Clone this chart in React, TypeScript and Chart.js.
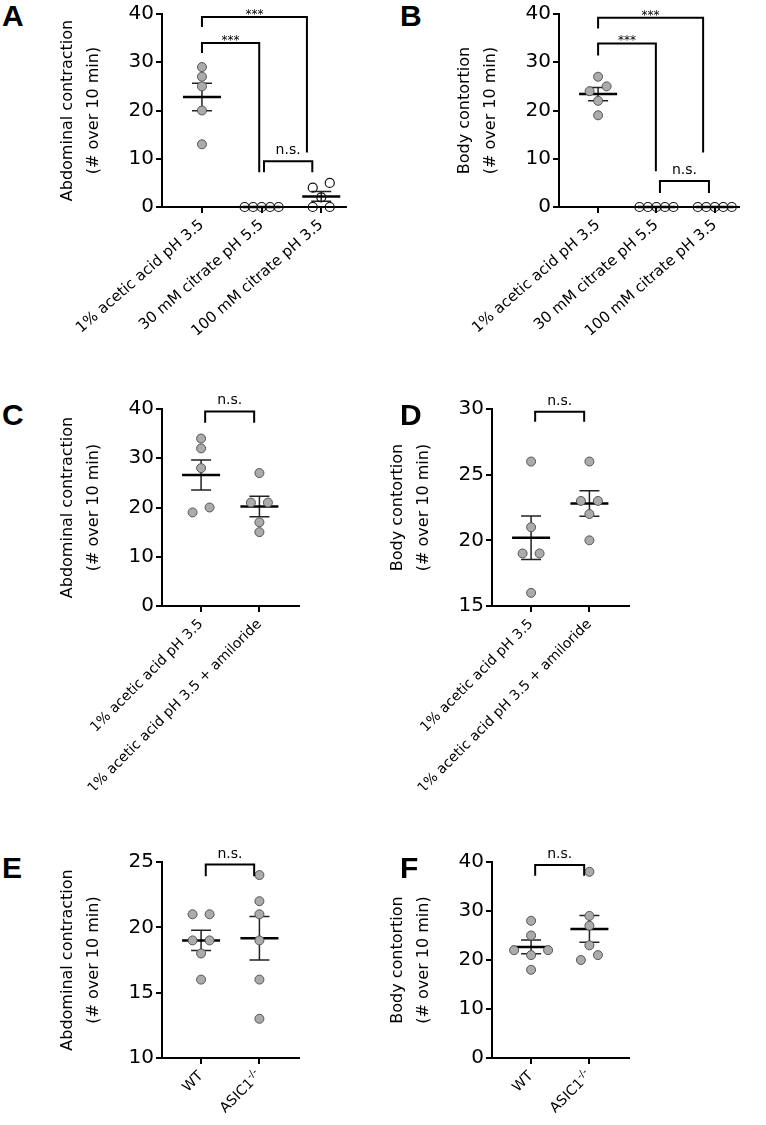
import React, { useEffect, useRef } from "react";
import { Chart, registerables } from "chart.js";

Chart.register(...registerables);

const FONT = "'DejaVu Sans', Verdana, sans-serif";

// ---------------- Data ----------------
const ACID_CITRATE_LABELS = ["1% acetic acid pH 3.5", "30 mM citrate pH 5.5", "100 mM citrate pH 3.5"];
const AMILORIDE_LABELS = ["1% acetic acid pH 3.5", "1% acetic acid pH 3.5 + amiloride"];
const GENOTYPE_LABELS = ["WT", "ASIC1^-/-"];

// Panel A: abdominal contractions
const A_ACETIC = [29, 27, 25, 20, 13];
const A_CITRATE_55 = [0, 0, 0, 0, 0];
const A_CITRATE_35 = [5, 4, 2, 0, 0];
// Panel B: body contortions
const B_ACETIC = [27, 25, 24, 22, 19];
const B_CITRATE_55 = [0, 0, 0, 0, 0];
const B_CITRATE_35 = [0, 0, 0, 0, 0];
// Panel C: abdominal contractions +/- amiloride
const C_ACETIC = [34, 32, 28, 20, 19];
const C_AMILORIDE = [27, 21, 21, 17, 15];
// Panel D: body contortions +/- amiloride
const D_ACETIC = [26, 21, 19, 19, 16];
const D_AMILORIDE = [26, 23, 23, 22, 20];
// Panel E: abdominal contractions WT vs ASIC1-/-
const E_WT = [21, 21, 19, 19, 18, 16];
const E_ASIC1 = [24, 22, 21, 19, 16, 13];
// Panel F: body contortions WT vs ASIC1-/-
const F_WT = [28, 25, 22, 22, 21, 18];
const F_ASIC1 = [38, 29, 27, 23, 21, 20];

// Y tick labels
const TICKS_0_40 = [0, 10, 20, 30, 40];
const TICKS_15_30 = [15, 20, 25, 30];
const TICKS_10_25 = [10, 15, 20, 25];

// Significance brackets: [from group, to group, bar value, left leg end, right leg end, label]
type Bracket = [number, number, number, number, number, string];
const A_BRACKETS: Bracket[] = [
  [1, 2.76, 39.4, 37.3, 11.3, "***"],
  [1, 1.96, 34.0, 31.9, 7.2, "***"],
  [2.04, 2.85, 9.5, 7.2, 7.2, "n.s."],
];
const B_BRACKETS: Bracket[] = [
  [1, 2.8, 39.2, 37.0, 11.3, "***"],
  [1, 1.99, 33.9, 31.4, 7.4, "***"],
  [2.06, 2.9, 5.4, 2.9, 2.9, "n.s."],
];
const C_BRACKETS: Bracket[] = [[1.07, 1.91, 39.5, 37.2, 37.2, "n.s."]];
const D_BRACKETS: Bracket[] = [[1.07, 1.91, 29.8, 29.03, 29.03, "n.s."]];
const E_BRACKETS: Bracket[] = [[1.08, 1.91, 24.8, 23.9, 23.9, "n.s."]];
const F_BRACKETS: Bracket[] = [[1.07, 1.91, 39.4, 37.2, 37.2, "n.s."]];

const TITLE_ABDOMINAL = ["Abdominal contraction", "(# over 10 min)"];
const TITLE_BODY = ["Body contortion", "(# over 10 min)"];

// ---------------- Plugins ----------------
const swarmPlugin = {
  id: "swarm",
  afterDatasetsUpdate(chart: any) {
    chart.data.datasets.forEach((ds: any, di: number) => {
      const meta = chart.getDatasetMeta(di);
      const pts = meta.data.map((el: any, i: number) => ({ el, v: ds.data[i].y, y: el.y, base: el.x }));
      pts.sort((a: any, b: any) => b.y - a.y);
      const rows: any[][] = [];
      let cur: any[] = [];
      let startY: number | null = null;
      for (const p of pts) {
        if (startY === null || Math.abs(p.y - startY) >= 8) {
          if (cur.length) rows.push(cur);
          cur = [p];
          startY = p.y;
        } else cur.push(p);
      }
      if (cur.length) rows.push(cur);
      for (const row of rows) {
        const n = row.length;
        const sp = n > 1 ? Math.min(17, 34 / (n - 1)) : 0;
        const slots = Array.from({ length: n }, (_, k) => (k - (n - 1) / 2) * sp);
        slots.sort((a, b) => Math.abs(a) - Math.abs(b) || a - b);
        row.sort((a: any, b: any) => a.v - b.v);
        row.forEach((p: any, k: number) => {
          p.el.x = p.base + slots[k];
        });
      }
    });
  },
};

const summaryPlugin = {
  id: "summary",
  beforeDatasetsDraw(chart: any) {
    const { ctx } = chart;
    const xs = chart.scales.x;
    const ys = chart.scales.y;
    chart.data.datasets.forEach((ds: any, di: number) => {
      const vals: number[] = ds.data.map((d: any) => d.y);
      const n = vals.length;
      const mean = vals.reduce((a, b) => a + b, 0) / n;
      const sd = Math.sqrt(vals.reduce((a, b) => a + (b - mean) * (b - mean), 0) / (n - 1));
      const sem = sd / Math.sqrt(n);
      const cx = xs.getPixelForValue(di + 1);
      const ym = ys.getPixelForValue(mean);
      const yt = ys.getPixelForValue(mean + sem);
      const yb = ys.getPixelForValue(mean - sem);
      ctx.save();
      ctx.strokeStyle = "#222";
      ctx.lineWidth = 1.5;
      ctx.beginPath();
      ctx.moveTo(cx, yt);
      ctx.lineTo(cx, yb);
      ctx.moveTo(cx - 10, yt);
      ctx.lineTo(cx + 10, yt);
      ctx.moveTo(cx - 10, yb);
      ctx.lineTo(cx + 10, yb);
      ctx.stroke();
      ctx.strokeStyle = "#000";
      ctx.lineWidth = 2.5;
      ctx.beginPath();
      ctx.moveTo(cx - 19, ym);
      ctx.lineTo(cx + 19, ym);
      ctx.stroke();
      ctx.restore();
    });
  },
};

const annotatePlugin = {
  id: "annotate",
  afterDraw(chart: any, _args: any, opts: any) {
    const { ctx, chartArea } = chart;
    const xs = chart.scales.x;
    const ys = chart.scales.y;
    ctx.save();
    // brackets
    (opts.brackets || []).forEach((b: Bracket) => {
      const [from, to, bar, l, r, label] = b;
      const x1 = xs.getPixelForValue(from);
      const x2 = xs.getPixelForValue(to);
      const yb = ys.getPixelForValue(bar);
      ctx.strokeStyle = "#000";
      ctx.lineWidth = 2;
      ctx.lineJoin = "miter";
      ctx.beginPath();
      ctx.moveTo(x1, ys.getPixelForValue(l));
      ctx.lineTo(x1, yb);
      ctx.lineTo(x2, yb);
      ctx.lineTo(x2, ys.getPixelForValue(r));
      ctx.stroke();
      ctx.fillStyle = "#000";
      ctx.textAlign = "center";
      ctx.textBaseline = "alphabetic";
      if (label === "n.s.") {
        ctx.font = `14px ${FONT}`;
        ctx.fillText(label, (x1 + x2) / 2, yb - 7);
      } else {
        ctx.font = `12px ${FONT}`;
        ctx.fillText(label, (x1 + x2) / 2, yb + 1);
      }
    });
    // rotated category labels
    const angle = ((opts.labelAngle || 45) * Math.PI) / 180;
    const size = opts.labelSize || 14;
    (opts.labels || []).forEach((lab: string, i: number) => {
      const x = xs.getPixelForValue(i + 1);
      const y = chartArea.bottom + 16;
      ctx.save();
      ctx.translate(x, y);
      ctx.rotate(-angle);
      ctx.fillStyle = "#000";
      ctx.textAlign = "right";
      ctx.textBaseline = "middle";
      const parts = lab.split("^");
      let offset = 0;
      if (parts.length > 1) {
        ctx.font = `${Math.round(size * 0.7)}px ${FONT}`;
        ctx.fillText(parts[1], 0, -size * 0.35);
        offset = ctx.measureText(parts[1]).width;
      }
      ctx.font = `${size}px ${FONT}`;
      ctx.fillText(parts[0], -offset, 0);
      ctx.restore();
    });
    ctx.restore();
  },
};

// ---------------- Panel component ----------------
type Group = { values: number[]; open: boolean };
type PanelSpec = {
  left: number;
  top: number;
  width: number;
  height: number;
  axisW: number;
  padTop: number;
  axisH: number;
  xMin: number;
  xMax: number;
  labelAngle: number;
  labelSize: number;
  yTicks: number[];
  title: string[];
  labels: string[];
  groups: Group[];
  brackets: Bracket[];
};

function Panel({ spec }: { spec: PanelSpec }) {
  const ref = useRef<HTMLCanvasElement | null>(null);
  useEffect(() => {
    if (!ref.current) return;
    const s = spec;
    const chart = new Chart(ref.current, {
      type: "scatter",
      data: {
        datasets: s.groups.map((g, gi) => ({
          data: g.values.map((v) => ({ x: gi + 1, y: v })),
          pointRadius: 4.5,
          pointHoverRadius: 4.5,
          pointBorderWidth: g.open ? 1.2 : 1,
          pointBackgroundColor: g.open ? "rgba(255,255,255,0)" : "#ababab",
          pointBorderColor: g.open ? "#111" : "#555",
          clip: false,
        })),
      } as any,
      options: {
        animation: false,
        responsive: false,
        maintainAspectRatio: false,
        devicePixelRatio: 1,
        events: [],
        layout: { padding: { top: s.padTop, left: 0, right: 0, bottom: 0 } },
        plugins: {
          legend: { display: false },
          tooltip: { enabled: false },
          annotate: { brackets: s.brackets, labels: s.labels, labelAngle: s.labelAngle, labelSize: s.labelSize },
        } as any,
        scales: {
          x: {
            type: "linear",
            min: s.xMin,
            max: s.xMax,
            afterBuildTicks: (sc: any) => {
              sc.ticks = s.labels.map((_, i) => ({ value: i + 1 }));
            },
            afterFit: (sc: any) => {
              sc.height = s.axisH;
            },
            ticks: { display: false },
            grid: { drawOnChartArea: false, drawTicks: true, tickLength: 6, color: "#000", lineWidth: 2 },
            border: { display: true, color: "#000", width: 2 },
          },
          y: {
            type: "linear",
            min: s.yTicks[0],
            max: s.yTicks[s.yTicks.length - 1],
            afterBuildTicks: (sc: any) => {
              sc.ticks = s.yTicks.map((v) => ({ value: v }));
            },
            afterFit: (sc: any) => {
              sc.width = s.axisW;
            },
            ticks: { font: { family: FONT, size: 20 }, color: "#000", padding: 2 },
            grid: { drawOnChartArea: false, drawTicks: true, tickLength: 6, color: "#000", lineWidth: 2 },
            border: { display: true, color: "#000", width: 2 },
            title: {
              display: true,
              text: s.title,
              color: "#000",
              font: { family: FONT, size: 16, lineHeight: 26 / 16 },
              padding: { top: s.axisW - 107, bottom: 0 },
            },
          },
        },
      } as any,
      plugins: [swarmPlugin, summaryPlugin, annotatePlugin] as any,
    });
    return () => chart.destroy();
  }, [spec]);
  return (
    <canvas
      ref={ref}
      width={spec.width}
      height={spec.height}
      style={{ position: "absolute", left: spec.left, top: spec.top, width: spec.width, height: spec.height }}
    />
  );
}

// ---------------- Layout ----------------
const PANELS: PanelSpec[] = [
  {
    left: 40, top: 0, width: 312, height: 350, axisW: 122, padTop: 12, axisH: 143,
    xMin: 0.33, xMax: 3.42, labelAngle: 41, labelSize: 15,
    yTicks: TICKS_0_40, title: TITLE_ABDOMINAL, labels: ACID_CITRATE_LABELS,
    groups: [
      { values: A_ACETIC, open: false },
      { values: A_CITRATE_55, open: true },
      { values: A_CITRATE_35, open: true },
    ],
    brackets: A_BRACKETS,
  },
  {
    left: 430, top: 0, width: 315, height: 350, axisW: 129, padTop: 11, axisH: 143,
    xMin: 0.33, xMax: 3.42, labelAngle: 41, labelSize: 15,
    yTicks: TICKS_0_40, title: TITLE_BODY, labels: ACID_CITRATE_LABELS,
    groups: [
      { values: B_ACETIC, open: false },
      { values: B_CITRATE_55, open: true },
      { values: B_CITRATE_35, open: true },
    ],
    brackets: B_BRACKETS,
  },
  {
    left: 40, top: 380, width: 264, height: 410, axisW: 122, padTop: 29, axisH: 184,
    xMin: 0.33, xMax: 2.67, labelAngle: 45, labelSize: 14,
    yTicks: TICKS_0_40, title: TITLE_ABDOMINAL, labels: AMILORIDE_LABELS,
    groups: [
      { values: C_ACETIC, open: false },
      { values: C_AMILORIDE, open: false },
    ],
    brackets: C_BRACKETS,
  },
  {
    left: 370, top: 380, width: 264, height: 410, axisW: 122, padTop: 29, axisH: 184,
    xMin: 0.33, xMax: 2.67, labelAngle: 45, labelSize: 14,
    yTicks: TICKS_15_30, title: TITLE_BODY, labels: AMILORIDE_LABELS,
    groups: [
      { values: D_ACETIC, open: false },
      { values: D_AMILORIDE, open: false },
    ],
    brackets: D_BRACKETS,
  },
  {
    left: 40, top: 835, width: 264, height: 290, axisW: 122, padTop: 27, axisH: 67,
    xMin: 0.33, xMax: 2.67, labelAngle: 45, labelSize: 14,
    yTicks: TICKS_10_25, title: TITLE_ABDOMINAL, labels: GENOTYPE_LABELS,
    groups: [
      { values: E_WT, open: false },
      { values: E_ASIC1, open: false },
    ],
    brackets: E_BRACKETS,
  },
  {
    left: 370, top: 835, width: 264, height: 290, axisW: 122, padTop: 27, axisH: 67,
    xMin: 0.33, xMax: 2.67, labelAngle: 45, labelSize: 14,
    yTicks: TICKS_0_40, title: TITLE_BODY, labels: GENOTYPE_LABELS,
    groups: [
      { values: F_WT, open: false },
      { values: F_ASIC1, open: false },
    ],
    brackets: F_BRACKETS,
  },
];

const LETTERS = [
  { t: "A", left: 2, top: 1 },
  { t: "B", left: 400, top: 1 },
  { t: "C", left: 2, top: 400 },
  { t: "D", left: 400, top: 400 },
  { t: "E", left: 2, top: 853 },
  { t: "F", left: 400, top: 853 },
];

export default function App() {
  return (
    <div style={{ position: "absolute", left: 0, top: 0, width: 766, height: 1125, background: "#fff", overflow: "hidden" }}>
      {PANELS.map((p, i) => (
        <Panel key={i} spec={p} />
      ))}
      {LETTERS.map((l) => (
        <div
          key={l.t}
          style={{
            position: "absolute",
            left: l.left,
            top: l.top,
            font: "bold 30px 'Liberation Sans', Arial, sans-serif",
            lineHeight: "30px",
            color: "#000",
          }}
        >
          {l.t}
        </div>
      ))}
    </div>
  );
}
